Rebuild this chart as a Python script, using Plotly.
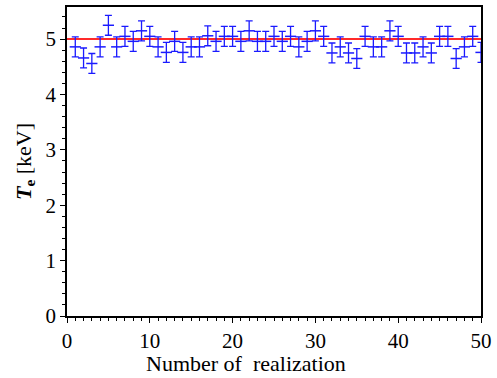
import plotly.graph_objects as go

realization = list(range(1, 51))
te_values = [4.86, 4.66, 4.56, 4.86, 5.25, 4.86, 5.05, 4.96, 5.15, 5.05,
             4.86, 4.76, 4.96, 4.76, 4.86, 4.86, 5.06, 4.96, 5.05, 5.05,
             4.96, 5.15, 4.96, 4.96, 5.05, 4.96, 5.05, 4.86, 4.96, 5.15,
             5.05, 4.75, 4.86, 4.75, 4.65, 5.05, 4.86, 4.86, 5.15, 5.05,
             4.75, 4.75, 4.86, 4.75, 5.05, 5.05, 4.65, 4.86, 5.05, 4.76]
te_errors = [0.18] * 50
true_te = 5.0

fig = go.Figure()
fig.add_trace(go.Scatter(
    x=[0, 50], y=[true_te, true_te], mode="lines",
    line=dict(color="#ff2a2a", width=2), showlegend=False, hoverinfo="skip"))
fig.add_trace(go.Scatter(
    x=realization, y=te_values, mode="markers",
    marker=dict(symbol="line-ew", size=8, line=dict(color="#1a1aff", width=1.5)),
    error_y=dict(type="data", array=te_errors, visible=True,
                 color="#1a1aff", thickness=1.3, width=3.5),
    showlegend=False))

serif = "'Liberation Serif', 'DejaVu Serif', serif"
fig.update_layout(
    width=497, height=378,
    margin=dict(l=67, r=13, t=5, b=62),
    paper_bgcolor="white", plot_bgcolor="white",
    font=dict(family=serif, size=21, color="black"),
    xaxis=dict(range=[0, 50], tickmode="array", tickvals=[0, 10, 20, 30, 40, 50],
               ticks="outside", ticklen=5, tickwidth=1, tickcolor="black",
               tickfont=dict(family=serif, size=21),
               minor=dict(dtick=1, ticks="outside", ticklen=3, tickcolor="black"),
               showline=True, linecolor="black", linewidth=1.5, mirror=True,
               showgrid=False, zeroline=False),
    yaxis=dict(range=[0, 5.58], tickmode="array", tickvals=[0, 1, 2, 3, 4, 5],
               ticks="outside", ticklen=5, tickwidth=1, tickcolor="black",
               tickfont=dict(family=serif, size=21),
               minor=dict(dtick=0.2, ticks="outside", ticklen=3, tickcolor="black"),
               showline=True, linecolor="black", linewidth=1.5, mirror=True,
               showgrid=False, zeroline=False,
               title=dict(text="<b><i>T</i></b><sub><b>e</b></sub> [keV]",
                          font=dict(family=serif, size=22), standoff=8)),
    annotations=[dict(text="Number of  realization", xref="paper", yref="paper",
                      x=0.432, y=-0.155, xanchor="center", yanchor="middle",
                      showarrow=False, font=dict(family=serif, size=22))],
)
fig.write_html("out.html")
